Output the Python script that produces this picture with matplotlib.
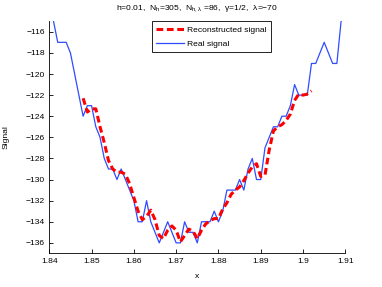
import numpy as np
import matplotlib
matplotlib.use('Agg')
import matplotlib.pyplot as plt
from matplotlib.ticker import FuncFormatter

plt.rcParams['font.family'] = ['Liberation Sans', 'DejaVu Sans']
plt.rcParams['mathtext.fontset'] = 'custom'
plt.rcParams['mathtext.rm'] = 'Liberation Sans'
plt.rcParams['font.size'] = 6.1

# Real signal (sampled every 0.001)
x_real = np.round(np.arange(1.841, 1.9095, 0.001), 3)
y_real = [-115, -117, -117, -117, -118, -120, -122, -124, -123, -123,
          -125, -126, -128, -129, -129, -130, -129, -130, -131, -132,
          -134, -134, -132, -134, -135, -136, -135, -134, -135, -136,
          -136, -134, -135, -135, -136, -134, -134, -134, -133, -134,
          -133, -131, -131, -131, -130, -131, -129, -128, -130, -130,
          -127, -126, -125, -125, -124, -124, -123, -121, -122, -122,
          -122, -119, -119, -118, -117, -118, -119, -119, -115]

# Reconstructed signal
x_rec = np.round(np.arange(1.848, 1.9025, 0.001), 3)
y_rec = [-122.3, -123.6, -123.3, -123.3, -125.0, -126.5, -128.2, -129.0, -129.3, -129.3,
         -129.5, -130.4, -131.7, -133.0, -133.8, -133.5, -132.9, -133.8, -135.3, -135.6,
         -134.8, -134.4, -134.8, -135.9, -135.3, -134.7, -134.9, -135.6, -134.8, -134.2,
         -133.9, -133.7, -133.7, -132.8, -132.2, -131.4, -131.0, -130.7, -130.1, -129.4,
         -128.8, -128.5, -129.7, -129.6, -127.2, -125.4, -125.0, -124.8, -124.4, -123.8,
         -122.5, -121.9, -122.0, -121.9, -121.6]

fig = plt.figure(figsize=(3.82, 2.87), dpi=100)
ax = fig.add_axes([0.129, 0.117, 0.775, 0.809])

ax.plot(x_rec, y_rec, color='red', lw=2.2, dashes=(2.2, 1.2), label='Reconstructed signal', zorder=3)
ax.plot(x_real, y_real, color='#2f4cff', lw=0.9, label='Real signal', zorder=2)

ax.set_xlim(1.84, 1.91)
ax.set_ylim(-137, -115)
ax.set_xticks(np.round(np.arange(1.84, 1.9105, 0.01), 2))
ax.set_yticks(np.arange(-136, -115, 2))
ax.xaxis.set_major_formatter(FuncFormatter(lambda v, p: f'{v:g}'))
ax.yaxis.set_major_formatter(FuncFormatter(lambda v, p: f'{v:g}'.replace('-', '\u2212')))
ax.tick_params(direction='in', length=3, width=0.6, labelsize=6.1, pad=3)

for s in ['top', 'right']:
    ax.spines[s].set_visible(False)
for s in ['left', 'bottom']:
    ax.spines[s].set_linewidth(0.6)

ax.set_xlabel('x')
ax.set_ylabel('Signal')
ax.xaxis.set_label_coords(0.5, -0.085)
ax.yaxis.set_label_coords(-0.133, 0.5)

ax.set_title(r'h=0.01,  $\mathregular{N_h}$=305,  $\mathregular{N_{h,\lambda}}$ =86,  '
             '\u03b3=1/2,  \u03bb=\u221270', fontsize=6.1, pad=8)

leg = ax.legend(loc='upper left', bbox_to_anchor=(0.346, 1.0), borderaxespad=0,
                fancybox=False, edgecolor='black', framealpha=1, fontsize=6.1,
                handlelength=3.3, handletextpad=0.3, borderpad=0.55, labelspacing=0.7)
leg.get_frame().set_linewidth(0.6)

fig.savefig('out.png', dpi=100)
